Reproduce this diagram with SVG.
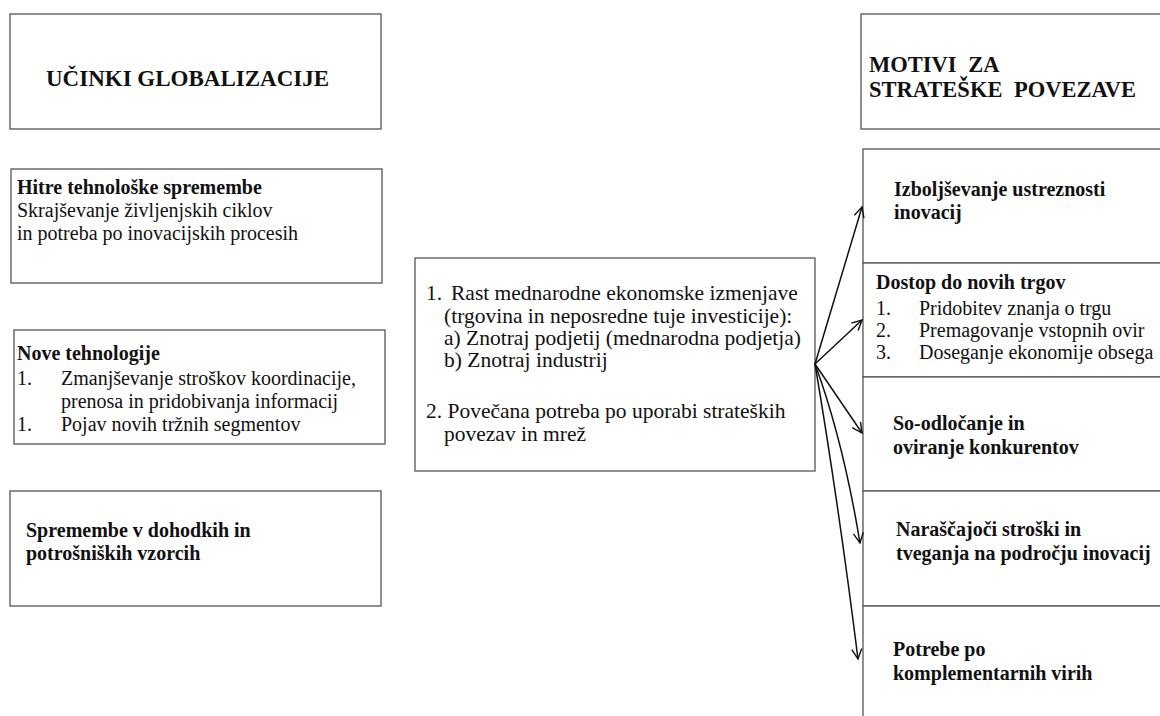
<svg xmlns="http://www.w3.org/2000/svg" width="1160" height="716" viewBox="0 0 1160 716">
<style>
.box{fill:#fff;stroke:#555;stroke-width:1.3}
text{font-family:"Liberation Serif","Times New Roman",serif;fill:#111}
.t{font-size:20px}
.b{font-weight:bold}
.h{font-size:23px;font-weight:bold}
.h2{font-size:22.5px;font-weight:bold;word-spacing:6px}
.c{font-size:21.5px}
.conn{fill:none;stroke:#111;stroke-width:1.5}
</style>
<defs>
<marker id="arr" markerUnits="userSpaceOnUse" markerWidth="14" markerHeight="14" refX="11" refY="6" orient="auto">
<path d="M1,1 L11,6 L1,11" fill="none" stroke="#111" stroke-width="1.4"/>
</marker>
</defs>
<rect width="1160" height="716" fill="#fff"/>

<g id="title-left">
<rect class="box" x="10" y="14" width="371" height="115"/>
<text class="h" x="46" y="86">UČINKI GLOBALIZACIJE</text>
</g>

<g id="hitre">
<rect class="box" x="11" y="169" width="371" height="114"/>
<text class="t b" x="17" y="194">Hitre tehnološke spremembe</text>
<text class="t" x="17" y="217">Skrajševanje življenjskih  ciklov</text>
<text class="t" x="17" y="240">in potreba po inovacijskih procesih</text>
</g>

<g id="nove">
<rect class="box" x="14" y="330" width="371" height="114"/>
<text class="t b" x="17" y="360">Nove tehnologije</text>
<text class="t" x="17" y="385">1.</text>
<text class="t" x="61" y="385">Zmanjševanje stroškov koordinacije,</text>
<text class="t" x="61" y="408">prenosa in pridobivanja informacij</text>
<text class="t" x="17" y="431">1.</text>
<text class="t" x="61" y="431">Pojav novih tržnih segmentov</text>
</g>

<g id="spremembe">
<rect class="box" x="10" y="491" width="371" height="115"/>
<text class="t b" x="26" y="537">Spremembe v dohodkih in</text>
<text class="t b" x="26" y="560">potrošniških vzorcih</text>
</g>

<g id="center">
<rect class="box" x="415" y="258" width="400" height="213"/>
<text class="c" x="426" y="300">1.</text>
<text class="c" x="451" y="300">Rast mednarodne ekonomske izmenjave</text>
<text class="c" x="444" y="323">(trgovina in neposredne tuje investicije):</text>
<text class="c" x="444" y="345">a) Znotraj podjetij (mednarodna podjetja)</text>
<text class="c" x="444" y="367">b) Znotraj industrij</text>
<text class="c" x="426" y="418">2. Povečana potreba po uporabi strateških</text>
<text class="c" x="444" y="441">povezav in mrež</text>
</g>

<g id="title-right">
<rect class="box" x="861" y="14" width="320" height="115"/>
<text class="h2" x="869" y="72">MOTIVI ZA</text>
<text class="h2" x="869" y="97">STRATEŠKE POVEZAVE</text>
</g>

<g id="izboljsevanje">
<rect class="box" x="863" y="149" width="320" height="114"/>
<text class="t b" x="894" y="196">Izboljševanje ustreznosti</text>
<text class="t b" x="894" y="219">inovacij</text>
</g>

<g id="dostop">
<rect class="box" x="863" y="263" width="320" height="114"/>
<text class="t b" x="876" y="289">Dostop do novih trgov</text>
<text class="t" x="876" y="315">1.</text>
<text class="t" x="919" y="315">Pridobitev znanja o trgu</text>
<text class="t" x="876" y="337">2.</text>
<text class="t" x="919" y="337">Premagovanje vstopnih ovir</text>
<text class="t" x="876" y="359">3.</text>
<text class="t" x="919" y="359">Doseganje ekonomije obsega</text>
</g>

<g id="soodlocanje">
<rect class="box" x="863" y="377" width="320" height="114"/>
<text class="t b" x="893" y="430">So-odločanje  in</text>
<text class="t b" x="893" y="454">oviranje konkurentov</text>
</g>

<g id="narascajoci">
<rect class="box" x="863" y="491" width="320" height="115"/>
<text class="t b" x="896" y="536">Naraščajoči  stroški in</text>
<text class="t b" x="896" y="560">tveganja na področju inovacij</text>
</g>

<g id="potrebe">
<rect class="box" x="863" y="606" width="320" height="120"/>
<text class="t b" x="893" y="656">Potrebe po</text>
<text class="t b" x="893" y="680">komplementarnih virih</text>
</g>

<g id="connectors">
<path class="conn" marker-end="url(#arr)" d="M815,364 L862,207"/>
<path class="conn" marker-end="url(#arr)" d="M815,364 L862,320"/>
<path class="conn" marker-end="url(#arr)" d="M815,364 L862,433"/>
<path class="conn" marker-end="url(#arr)" d="M815,364 Q843,440 860,543"/>
<path class="conn" marker-end="url(#arr)" d="M815,364 Q838,500 858,659"/>
</g>
</svg>
